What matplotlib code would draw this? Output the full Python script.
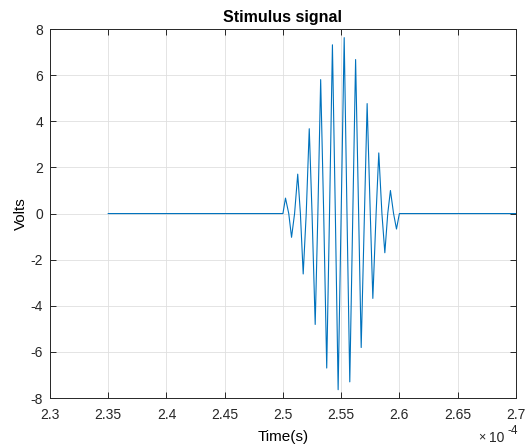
import matplotlib.pyplot as plt, numpy as np
from matplotlib.ticker import FuncFormatter

plt.rcParams['font.family'] = ['Liberation Sans', 'DejaVu Sans']
plt.rcParams['axes.unicode_minus'] = False

# burst, times in microseconds
zero_t = [250.0, 250.5, 251.0, 251.5, 252.0, 252.5, 253.0, 253.5, 254.0, 254.5,
          255.0, 255.5, 256.0, 256.5, 257.0, 257.5, 258.0, 258.5, 259.0, 259.5, 260.0]
peak_t = [250.22, 251.27, 252.26, 253.24, 254.25, 255.26, 256.24, 257.23, 258.23, 259.23]
peak_v = [0.67, 1.71, 3.68, 5.81, 7.32, 7.63, 6.68, 4.77, 2.63, 1.0]
trough_t = [250.74, 251.74, 252.77, 253.76, 254.74, 255.74, 256.72, 257.72, 258.75, 259.75]
trough_v = [-1.03, -2.62, -4.81, -6.7, -7.64, -7.3, -5.81, -3.68, -1.7, -0.67]
# flat parts before and after the burst
flat_t = [235.0, 270.0]

t = np.array(flat_t + zero_t + peak_t + trough_t)
v = np.array([0.0] * len(flat_t) + [0.0] * len(zero_t) + peak_v + trough_v)
order = np.argsort(t)
t_s = t[order] * 1e-6
v = v[order]

fig = plt.figure(figsize=(5.28, 4.48), dpi=100)
ax = fig.add_axes([0.0947, 0.1116, 0.8823, 0.8234])

ax.plot(t_s / 1e-4, v, color='#0072BD', lw=0.8, solid_joinstyle='round')

ax.set_xlim(2.3, 2.7)
ax.set_ylim(-8, 8)
ax.set_xticks(np.arange(2.3, 2.7001, 0.05))
ax.set_yticks(np.arange(-8, 9, 2))
ax.xaxis.set_major_formatter(FuncFormatter(lambda x, p: f"{x:g}"))
ax.yaxis.set_major_formatter(FuncFormatter(lambda y, p: f"{y:g}"))

ax.grid(True, color='#dfdfdf', lw=0.6)
ax.set_axisbelow(True)
for s in ax.spines.values():
    s.set_color('#262626')
    s.set_linewidth(0.7)
ax.tick_params(direction='in', top=True, right=True, length=4, width=0.7,
               colors='#262626', labelsize=10)
ax.tick_params(axis='x', pad=7)
ax.tick_params(axis='y', pad=5)

ax.set_title('Stimulus signal', fontsize=11.5, fontweight='bold', pad=5)
ax.set_xlabel('Time(s)', fontsize=11, labelpad=6)
ax.set_ylabel('Volts', fontsize=11, labelpad=2)
# MATLAB-style exponent under the right end of the x axis
fig.text(478 / 528, 1 - 440 / 448, '×', fontsize=9, color='#262626', ha='left', va='baseline')
fig.text(489 / 528, 1 - 442 / 448, '10', fontsize=10, color='#262626', ha='left', va='baseline')
fig.text(507 / 528, 1 - 434 / 448, '-4', fontsize=8.5, color='#262626', ha='left', va='baseline')

fig.savefig('out.png', dpi=100)
